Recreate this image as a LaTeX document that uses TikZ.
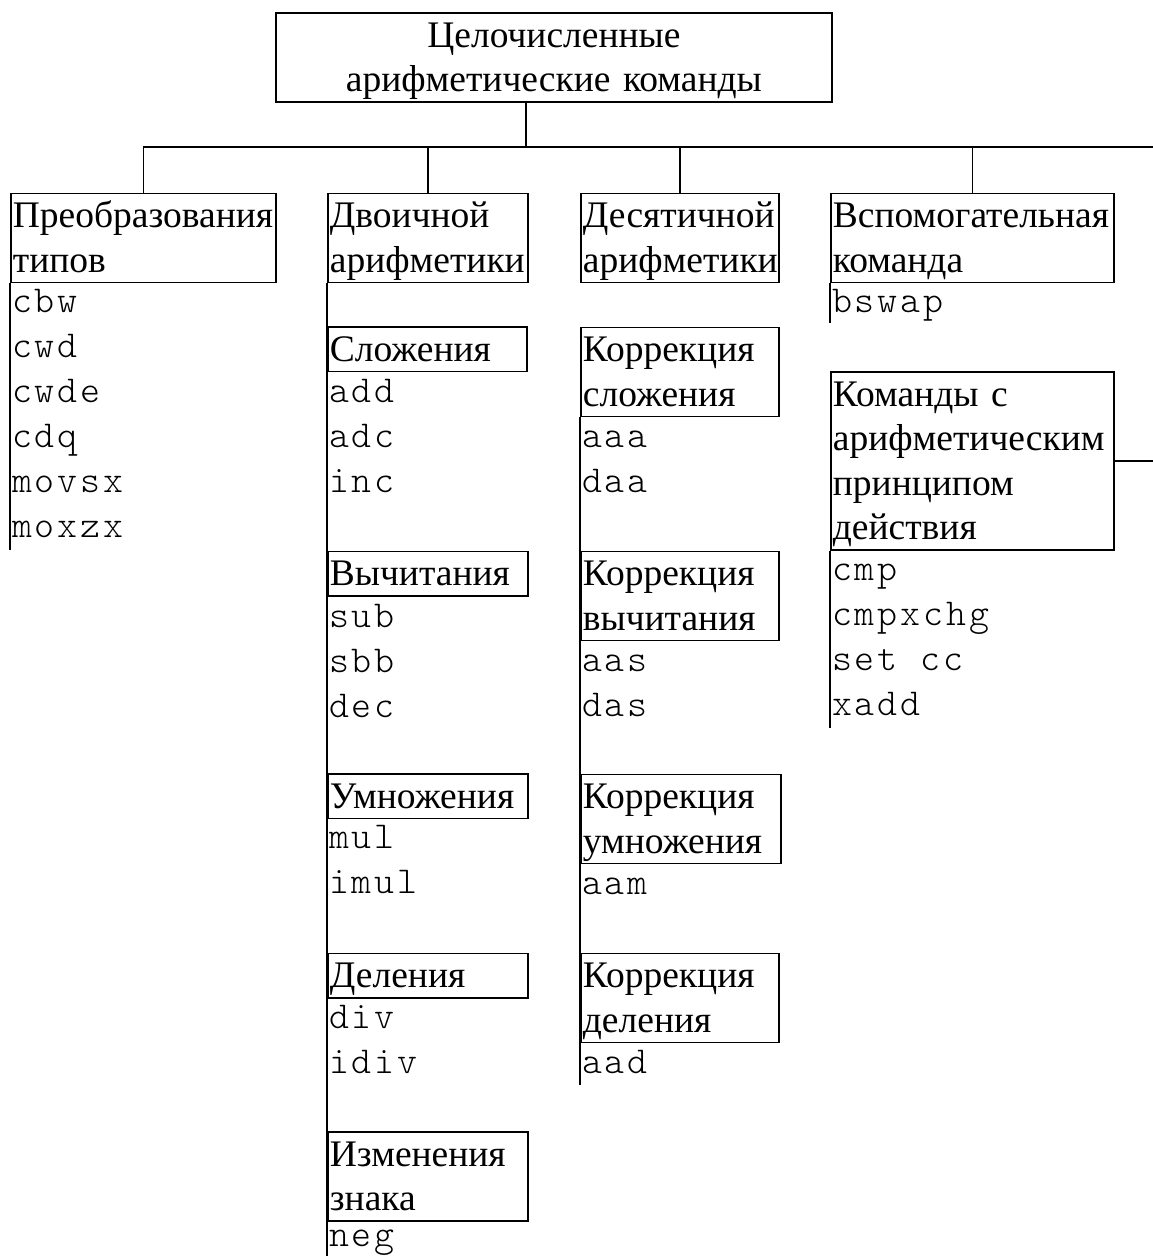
\documentclass[tikz,border=0pt]{standalone}
\usepackage{fontspec}
\setmainfont{Liberation Serif}
\setmonofont{lmmonolt10-regular.otf}[LetterSpace=7.5]
\newcommand\rs{\rule[-10pt]{0pt}{44.5pt}}
\newcommand\ms{\rule[-14pt]{0pt}{45pt}}
\tikzset{
  box/.style={draw, line width=1.8pt, rectangle, anchor=north west,
    inner xsep=2pt, inner ysep=0pt, align=left,
    font=\rmfamily\fontsize{37.5}{44.5}\selectfont},
  cmds/.style={anchor=north west, inner xsep=0pt, inner ysep=0pt, align=left,
    font=\ttfamily\fontsize{38}{45}\selectfont},
  wire/.style={line width=1.6pt}
}
\begin{document}
\begin{tikzpicture}[x=1pt,y=-1pt]
\useasboundingbox (0,0) rectangle (1153,1256);

% top
\node[box, align=center, text width=552pt] (top) at (275,12) {\rs Целочисленные\\\rs арифметические команды};

% first row
\node[box, text width=261pt] (b1) at (10,192.5) {\rs Преобразования\\\rs типов};
\node[box, text width=196pt] (b2) at (327,192.5) {\rs Двоичной\\\rs арифметики};
\node[box, text width=194pt] (b3) at (580,192.5) {\rs Десятичной\\\rs арифметики};
\node[box, text width=279pt] (b4) at (830,192.5) {\rs Вспомогательная\\\rs команда};

% column 1
\node[cmds] (l1) at (12,281) {\ms cbw\\\ms cwd\\\ms cwde\\\ms cdq\\\ms movsx\\\ms moxzx};

% column 2
\node[box, text width=195pt] (s1) at (327,326) {\rs Сложения};
\node[cmds] (l2a) at (329,371) {\ms add\\\ms adc\\\ms inc};
\node[box, text width=196pt] (s2) at (327,550.5) {\rs Вычитания};
\node[cmds] (l2b) at (329,596) {\ms sub\\\ms sbb\\\ms dec};
\node[box, text width=196pt] (s3) at (327,773) {\rs Умножения};
\node[cmds] (l2c) at (329,817) {\ms mul\\\ms imul};
\node[box, text width=196pt] (s4) at (327,952.5) {\rs Деления};
\node[cmds] (l2d) at (329,997) {\ms div\\\ms idiv};
\node[box, text width=196pt] (s5) at (327,1131) {\rs Изменения\\\rs знака};
\node[cmds] (l2e) at (329,1215) {\ms neg};

% column 3
\node[box, text width=194pt] (c1) at (580,326.5) {\rs Коррекция\\\rs сложения};
\node[cmds] (l3a) at (582,416) {\ms aaa\\\ms daa};
\node[box, text width=194pt] (c2) at (580,550.5) {\rs Коррекция\\\rs вычитания};
\node[cmds] (l3b) at (582,640) {\ms aas\\\ms das};
\node[box, text width=196pt] (c3) at (580,773.5) {\rs Коррекция\\\rs умножения};
\node[cmds] (l3c) at (582,863) {\ms aam};
\node[box, text width=194pt] (c4) at (580,952.5) {\rs Коррекция\\\rs деления};
\node[cmds] (l3d) at (582,1042) {\ms aad};

% column 4
\node[cmds] (l4a) at (832,281) {\ms bswap};
\node[box, text width=279pt] (k) at (830,371) {\rs Команды с\\\rs арифметическим\\\rs принципом\\\rs действия};
\node[cmds] (l4b) at (832,549.5) {\ms cmp\\\ms cmpxchg\\\ms set cc\\\ms xadd};

% coordinates
\coordinate (hub) at (526,147);
\coordinate (eR) at (1153,147);
\coordinate (e1) at (10,550);
\coordinate (e2) at (327,1256);
\coordinate (e3) at (580,1085);
\coordinate (e4a) at (830,323);
\coordinate (e4b) at (830,728);

% connectors
\draw[wire] (top.south -| hub) -- (hub);
\draw[wire] (b1.north |- hub) -- (eR);
\draw[wire] (b1.north |- hub) -- (b1.north);
\draw[wire] (b2.north |- hub) -- (b2.north);
\draw[wire] (b3.north |- hub) -- (b3.north);
\draw[wire] (b4.north |- hub) -- (b4.north);
\draw[wire] (k.east) -- (k.east -| eR);

% side lines
\draw[wire] (b1.south west) -- (e1);
\draw[wire] (b2.south west) -- (e2);
\draw[wire] (c1.south west) -- (e3);
\draw[wire] (b4.south west) -- (e4a);
\draw[wire] (k.south west) -- (e4b);
\end{tikzpicture}
\end{document}
